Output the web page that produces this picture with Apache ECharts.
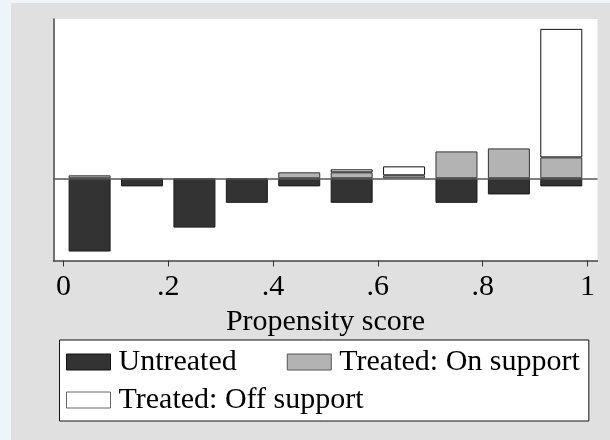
<!DOCTYPE html>
<html>
<head>
<meta charset="utf-8">
<script src="https://cdn.jsdelivr.net/npm/echarts@6/dist/echarts.min.js"></script>
<style>
html,body{margin:0;padding:0;background:#e0e0e0;}
#c{width:610px;height:440px;}
</style>
</head>
<body>
<div id="c"></div>
<script>
// Histogram bins of the propensity score (0-0.1, 0.1-0.2, ...)
var bins = ['0-.1', '.1-.2', '.2-.3', '.3-.4', '.4-.5', '.5-.6', '.6-.7', '.7-.8', '.8-.9', '.9-1'];
// Untreated (drawn below zero), in chart units
var untreated = [-24.5, -2.7, -16.5, -8.2, -2.7, -8.2, null, -8.2, -5.4, -2.7];
// Treated: on support (above zero)
var onSupport = [1, null, null, null, 2, 2, 1, 9, 10, 7];
// Treated: off support (stacked above on-support)
var offSupport = [null, null, null, null, null, 1, 3, null, null, 43];
var tickLabels = ['0', '.2', '.4', '.6', '.8', '1'];

var FONT = 'Liberation Serif';
var FS = 30;
var YMIN = -27.5, YMAX = 53.3;
var chart = echarts.init(document.getElementById('c'), null, {renderer: 'canvas'});
chart.setOption({
  animation: false,
  backgroundColor: '#e0e0e0',
  graphic: [
    {type: 'rect', left: 0, top: 0, z: -10, shape: {width: 11, height: 440}, style: {fill: '#eef4f8'}},
    {type: 'rect', left: 0, top: 0, z: -10, shape: {width: 610, height: 3}, style: {fill: '#eef4f8'}}
  ],
  grid: [
    {left: 53.5, right: 12.5, top: 19, bottom: 179.5, show: true, backgroundColor: '#ffffff', borderWidth: 0},
    {left: 63.4, right: 22.5, top: 19, bottom: 179.5}
  ],
  xAxis: [
    {type: 'value', gridIndex: 0, min: 0, max: 1,
     axisLine: {show: true, onZero: false, lineStyle: {color: '#444', width: 1.5}},
     axisTick: {show: false}, axisLabel: {show: false}, splitLine: {show: false}},
    {type: 'value', gridIndex: 1, min: 0, max: 1, interval: 0.2, position: 'bottom',
     axisLine: {show: false, onZero: false},
     axisTick: {show: true, length: 6, lineStyle: {color: '#333', width: 1}},
     axisLabel: {show: true, margin: 12, color: '#000', fontFamily: FONT, fontSize: FS,
       formatter: function (v) { return tickLabels[Math.round(v * 5)]; }},
     splitLine: {show: false},
     name: 'Propensity score', nameLocation: 'middle', nameGap: 42,
     nameTextStyle: {color: '#000', fontFamily: FONT, fontSize: FS}},
    {type: 'category', gridIndex: 1, data: bins, position: 'top', show: false, boundaryGap: true}
  ],
  yAxis: [
    {type: 'value', gridIndex: 0, min: YMIN, max: YMAX,
     axisLine: {show: true, onZero: false, lineStyle: {color: '#444', width: 1.5}},
     axisTick: {show: false}, axisLabel: {show: false}, splitLine: {show: false}},
    {type: 'value', gridIndex: 1, min: YMIN, max: YMAX, show: false}
  ],
  legend: {
    left: 59.5, top: 340, width: 533, orient: 'horizontal',
    padding: [7, 9, 6, 6.5],
    itemWidth: 44, itemHeight: 16, itemGap: 8,
    backgroundColor: '#ffffff', borderColor: '#111', borderWidth: 1,
    icon: 'rect',
    selectedMode: false,
    textStyle: {color: '#000', fontFamily: FONT, fontSize: FS, lineHeight: 30,
      rich: {a: {fontFamily: FONT, fontSize: FS, lineHeight: 30, padding: [0, 42, 0, 3]},
             b: {fontFamily: FONT, fontSize: FS, lineHeight: 30, padding: [0, 0, 0, 3]}}},
    formatter: function (n) { return n === 'Untreated' ? '{a|' + n + '}' : '{b|' + n + '}'; },
    data: [
      {name: 'Untreated', itemStyle: {color: '#333333', borderColor: '#111', borderWidth: 1}},
      {name: 'Treated: On support', itemStyle: {color: '#b3b3b3', borderColor: '#555', borderWidth: 1}},
      {name: 'Treated: Off support', itemStyle: {color: '#ffffff', borderColor: '#666', borderWidth: 1}}
    ]
  },
  series: [
    {name: 'zero', type: 'line', xAxisIndex: 0, yAxisIndex: 0, data: [], z: 10,
     markLine: {silent: true, symbol: 'none', label: {show: false}, z: 10,
       lineStyle: {color: '#555', width: 1.5, type: 'solid'},
       data: [{yAxis: 0}]}},
    {name: 'Untreated', type: 'bar', xAxisIndex: 2, yAxisIndex: 1, stack: 'a', barWidth: 42,
     data: untreated,
     itemStyle: {color: '#333333', borderColor: '#1a1a1a', borderWidth: 1}},
    {name: 'Treated: On support', type: 'bar', xAxisIndex: 2, yAxisIndex: 1, stack: 'a', barWidth: 42,
     data: onSupport,
     itemStyle: {color: '#b3b3b3', borderColor: '#333', borderWidth: 1}},
    {name: 'Treated: Off support', type: 'bar', xAxisIndex: 2, yAxisIndex: 1, stack: 'a', barWidth: 42,
     data: offSupport,
     itemStyle: {color: '#ffffff', borderColor: '#111', borderWidth: 1}}
  ]
});
</script>
</body>
</html>
